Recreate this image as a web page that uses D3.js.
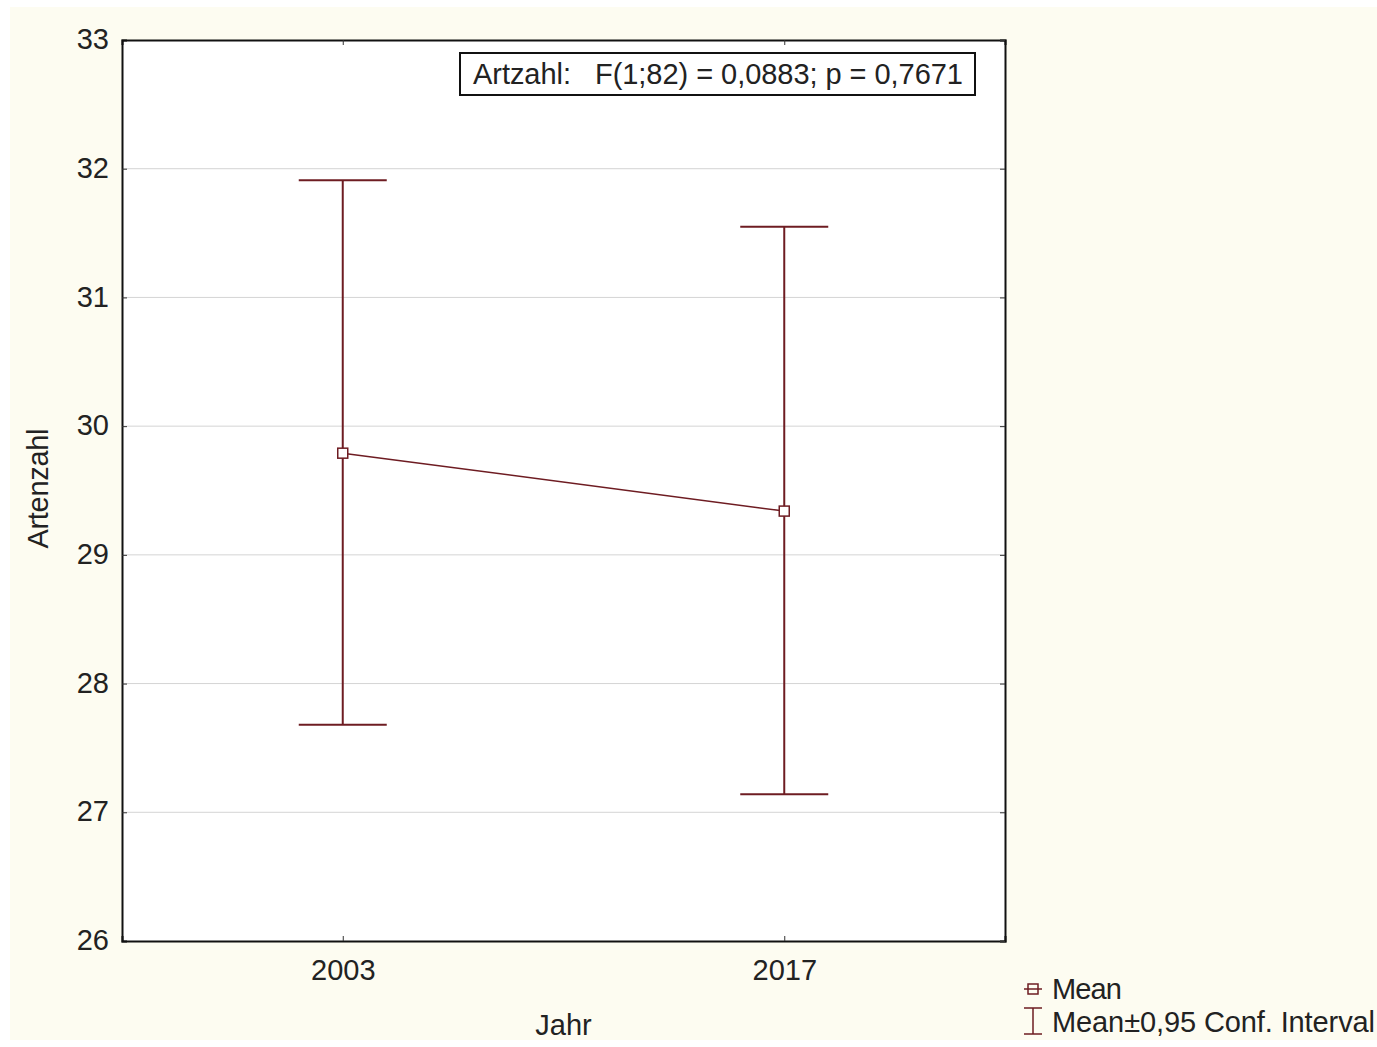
<!DOCTYPE html>
<html>
<head>
<meta charset="utf-8">
<script src="https://cdn.jsdelivr.net/npm/d3@7"></script>
<style>
  body { margin: 0; background: #fff; }
  text { font-family: "Liberation Sans", Arial, sans-serif; fill: #222; }
</style>
</head>
<body>
<div id="chart"></div>
<script>
// data
const years = ["2003", "2017"];
const means = [29.79, 29.34];
const lower = [27.68, 27.14];
const upper = [31.91, 31.55];
const yTicks = [26, 27, 28, 29, 30, 31, 32, 33];

const W = 1377, H = 1047;
const margin = {top: 40, right: 372, bottom: 106, left: 122},
    width = W - margin.left - margin.right,
    height = H - margin.top - margin.bottom;

const lineColor = "#6e1c22";
const fs = "29px";

const root = d3.select("#chart").append("svg")
    .attr("width", W)
    .attr("height", H);

root.append("rect")
    .attr("x", 10).attr("y", 7)
    .attr("width", W - 10).attr("height", H - 14)
    .attr("fill", "#fdfcf1");

const svg = root.append("g")
    .attr("transform", `translate(${margin.left}, ${margin.top})`);

const x = d3.scalePoint().domain(years).range([0, width]).padding(0.5);
const y = d3.scaleLinear().domain([26, 33]).range([height, 0]);

// plot background
svg.append("rect")
    .attr("width", width).attr("height", height)
    .attr("fill", "#fff");

// grid lines
svg.append("g")
  .selectAll("line")
  .data(yTicks.slice(1, -1))
  .join("line")
    .attr("x1", 0).attr("x2", width)
    .attr("y1", d => y(d)).attr("y2", d => y(d))
    .attr("stroke", "#d4d4d4")
    .attr("stroke-width", 1);

// axes
const yAxis = svg.append("g")
    .call(d3.axisLeft(y).tickValues(yTicks).tickSize(-5).tickPadding(13).tickFormat(d3.format("d")));
const xAxis = svg.append("g")
    .attr("transform", `translate(0, ${height})`)
    .call(d3.axisBottom(x).tickSize(-5).tickPadding(19));
const xTop = svg.append("g")
    .call(d3.axisTop(x).tickSize(-5).tickFormat(""));
const yRight = svg.append("g")
    .attr("transform", `translate(${width}, 0)`)
    .call(d3.axisRight(y).tickValues(yTicks).tickSize(-5).tickFormat(""));

[yAxis, xAxis, xTop, yRight].forEach(g => {
  g.select(".domain").attr("stroke", "#111").attr("stroke-width", 2);
  g.selectAll(".tick line").attr("stroke", "#333");
  g.selectAll("text").style("font-size", fs).attr("fill", "#222");
});
yAxis.selectAll("text").attr("dy", "0.3em");
xAxis.selectAll("text").attr("dy", "0.68em");

// axis titles
svg.append("text")
    .attr("x", width / 2)
    .attr("y", height + 94)
    .attr("text-anchor", "middle")
    .style("font-size", fs)
    .text("Jahr");
svg.append("text")
    .attr("transform", `translate(${-74}, ${height / 2 - 2}) rotate(-90)`)
    .attr("text-anchor", "middle")
    .style("font-size", fs)
    .attr("textLength", 120)
    .text("Artenzahl");

// mean line
svg.append("path")
    .datum(years.map((d, i) => [x(d), y(means[i])]))
    .attr("d", d3.line())
    .attr("fill", "none")
    .attr("stroke", lineColor)
    .attr("stroke-width", 1.5);

// error bars
const cap = 44;
const bars = svg.append("g").selectAll("g")
  .data(years)
  .join("g");
bars.append("line")
    .attr("x1", d => x(d)).attr("x2", d => x(d))
    .attr("y1", (d, i) => y(upper[i])).attr("y2", (d, i) => y(lower[i]))
    .attr("stroke", lineColor).attr("stroke-width", 2);
bars.append("line")
    .attr("x1", d => x(d) - cap).attr("x2", d => x(d) + cap)
    .attr("y1", (d, i) => y(upper[i])).attr("y2", (d, i) => y(upper[i]))
    .attr("stroke", lineColor).attr("stroke-width", 2);
bars.append("line")
    .attr("x1", d => x(d) - cap).attr("x2", d => x(d) + cap)
    .attr("y1", (d, i) => y(lower[i])).attr("y2", (d, i) => y(lower[i]))
    .attr("stroke", lineColor).attr("stroke-width", 2);

// mean markers
bars.append("rect")
    .attr("x", d => x(d) - 5).attr("y", (d, i) => y(means[i]) - 5)
    .attr("width", 10).attr("height", 10)
    .attr("fill", "#fff")
    .attr("stroke", lineColor).attr("stroke-width", 1.5);

// stats box
const box = svg.append("g").attr("transform", `translate(${338}, ${13})`);
box.append("rect")
    .attr("width", 515).attr("height", 42)
    .attr("fill", "#fff").attr("stroke", "#111").attr("stroke-width", 2);
box.append("text")
    .attr("x", 13).attr("y", 31)
    .style("font-size", fs)
    .attr("textLength", 490)
    .attr("xml:space", "preserve")
    .text("Artzahl:   F(1;82) = 0,0883; p = 0,7671");

// legend
const leg = root.append("g").attr("transform", `translate(1020, 0)`);
leg.append("line")
    .attr("x1", 4).attr("x2", 22).attr("y1", 989).attr("y2", 989)
    .attr("stroke", lineColor).attr("stroke-width", 1.5);
leg.append("rect")
    .attr("x", 8).attr("y", 984).attr("width", 10).attr("height", 10)
    .attr("fill", "none").attr("stroke", lineColor).attr("stroke-width", 1.5);
leg.append("text")
    .attr("x", 32).attr("y", 999)
    .style("font-size", fs)
    .attr("textLength", 70)
    .text("Mean");
leg.append("path")
    .attr("d", "M4,1008H22M13,1008V1034M4,1034H22")
    .attr("fill", "none").attr("stroke", lineColor).attr("stroke-width", 1.5);
leg.append("text")
    .attr("x", 32).attr("y", 1032)
    .style("font-size", fs)
    .attr("textLength", 323)
    .text("Mean±0,95 Conf. Interval");
</script>
</body>
</html>
